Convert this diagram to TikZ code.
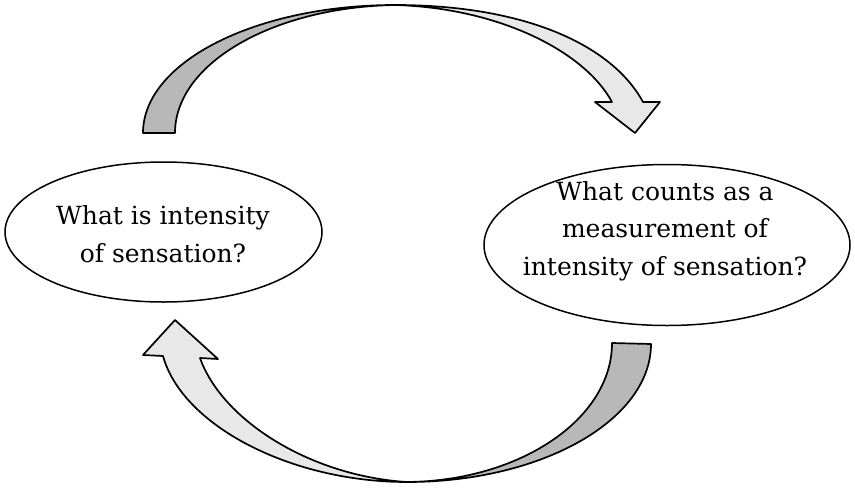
\documentclass[tikz,border=0pt]{standalone}
\usepackage{fontspec}
\setmainfont{DejaVu Serif}
\usetikzlibrary{shapes.geometric}
\definecolor{darkband}{gray}{0.72}
\definecolor{lightband}{gray}{0.91}
\tikzset{
  bubble/.style={draw=black, line width=1.5pt, ellipse, inner sep=0pt, fill=white},
  bubbletext/.style={font=\fontsize{25}{37.5}\selectfont, align=center, inner sep=0pt},
  band/.style={draw=black, line width=1.7pt, line join=round},
}
\begin{document}
\begin{tikzpicture}[x=1pt, y=-1pt]
\useasboundingbox (0,0) rectangle (855,491);
% ellipses
\node[bubble, minimum width=317pt, minimum height=140pt] (L) at (163.5,232) {};
\node[bubble, minimum width=366pt, minimum height=161pt] (R) at (667,245) {};
\node[bubbletext] (Lt) at (163,234) {What is intensity\\of sensation?};
\node[bubbletext] (Rt) at (665,231) {What counts as a\\measurement of\\intensity of sensation?};
% top arrow key points
\coordinate (t1) at (143,133);
\coordinate (t2) at (175,133);
\coordinate (tp) at (395,5);
\coordinate (h1) at (643,102);
\coordinate (w1) at (660,102);
\coordinate (tip1) at (635,133);
\coordinate (w2) at (595,102);
\coordinate (h2) at (612,102);
\draw[band, fill=darkband] (t1) .. controls (143,62) and (256,5) .. (tp)
  .. controls (274,7) and (175,63) .. (t2) -- cycle;
\draw[band, fill=lightband] (tp) .. controls (525,5) and (612,45) .. (h1)
  -- (w1) -- (tip1) -- (w2) -- (h2)
  .. controls (585,52) and (500,8) .. (tp) -- cycle;
% bottom arrow key points
\coordinate (b1) at (651,344);
\coordinate (b2) at (612,343);
\coordinate (bp) at (407,482);
\coordinate (g1) at (163,356);
\coordinate (v1) at (143,355);
\coordinate (tip2) at (175,320);
\coordinate (v2) at (218,359);
\coordinate (g2) at (200,358);
\draw[band, fill=darkband] (b1) .. controls (651,420) and (542,482) .. (bp)
  .. controls (520,481) and (612,419) .. (b2) -- cycle;
\draw[band, fill=lightband] (bp) .. controls (290,482) and (182,425) .. (g1)
  -- (v1) -- (tip2) -- (v2) -- (g2)
  .. controls (222,420) and (310,476) .. (bp) -- cycle;
\end{tikzpicture}
\end{document}
